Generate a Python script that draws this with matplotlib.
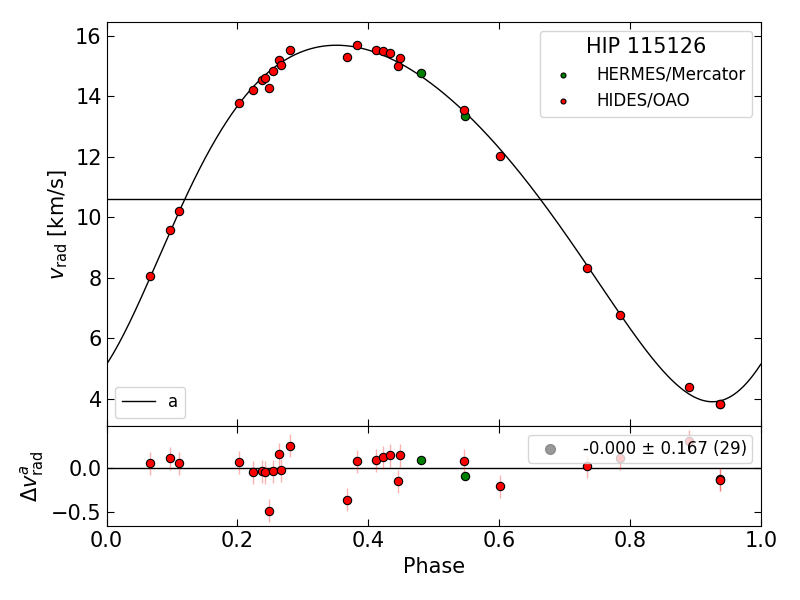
import numpy as np
import matplotlib
matplotlib.use("Agg")
import matplotlib.pyplot as plt

# ---- data ----
hides_phase = [0.067, 0.097, 0.111, 0.202, 0.224, 0.238, 0.242, 0.248, 0.254, 0.263,
               0.266, 0.281, 0.368, 0.382, 0.412, 0.423, 0.433, 0.445, 0.448, 0.547,
               0.601, 0.734, 0.785, 0.890, 0.937, 0.9375]
hides_rv = [8.07, 9.59, 10.22, 13.77, 14.22, 14.54, 14.60, 14.27, 14.83, 15.19,
            15.05, 15.52, 15.31, 15.71, 15.54, 15.49, 15.42, 14.99, 15.26, 13.56,
            12.01, 8.32, 6.78, 4.39, 3.82, 3.83]
hides_res = [0.057, 0.114, 0.053, 0.069, -0.045, -0.038, -0.045, -0.484, -0.038, 0.159,
             -0.026, 0.254, -0.359, 0.076, 0.088, 0.125, 0.148, -0.151, 0.148, 0.084,
             -0.204, 0.019, 0.110, 0.307, -0.128, -0.135]
hides_err = [0.13, 0.13, 0.13, 0.13, 0.13, 0.13, 0.13, 0.13, 0.13, 0.13,
             0.13, 0.13, 0.13, 0.13, 0.13, 0.13, 0.13, 0.13, 0.13, 0.13,
             0.13, 0.13, 0.13, 0.13, 0.13, 0.13]

hermes_phase = [0.480, 0.548]
hermes_rv = [14.77, 13.34]
hermes_res = [0.091, -0.087]
hermes_err = [0.03, 0.03]

# orbit parameters (estimated)
P = 1.0
T0 = 0.005
ecc = 0.18
omega_deg = 220.5
K = 5.895
gamma = 10.6

title = "HIP 115126"
stat_label = "-0.000 ± 0.167 (29)"


def kepler_rv(phase):
    M = 2 * np.pi * (np.asarray(phase) - T0) / P
    E = M.copy()
    for _ in range(50):
        E = E - (E - ecc * np.sin(E) - M) / (1 - ecc * np.cos(E))
    nu = 2 * np.arctan2(np.sqrt(1 + ecc) * np.sin(E / 2), np.sqrt(1 - ecc) * np.cos(E / 2))
    w = np.deg2rad(omega_deg)
    return gamma + K * (np.cos(nu + w) + ecc * np.cos(w))


fig = plt.figure(figsize=(8, 6), dpi=100)
gs = fig.add_gridspec(2, 1, height_ratios=[4.04, 1.0], hspace=0,
                      left=0.1333, right=0.951, top=0.963, bottom=0.123)
ax = fig.add_subplot(gs[0])
axr = fig.add_subplot(gs[1], sharex=ax)

ph = np.linspace(0, 1, 1000)
ax.plot(ph, kepler_rv(ph), color="black", lw=1, label="a", zorder=2)
ax.axhline(gamma, color="black", lw=1, zorder=1)

ax.errorbar(hermes_phase, hermes_rv, yerr=hermes_err, fmt="none", ecolor="green", alpha=0.3, lw=1, zorder=3)
ax.errorbar(hides_phase, hides_rv, yerr=hides_err, fmt="none", ecolor="red", alpha=0.3, lw=1, zorder=3)
h1 = ax.scatter(hermes_phase, hermes_rv, s=36, c="green", edgecolors="black", linewidths=0.8,
                zorder=4, label="HERMES/Mercator")
h2 = ax.scatter(hides_phase, hides_rv, s=36, c="red", edgecolors="black", linewidths=0.8,
                zorder=4, label="HIDES/OAO")

leg1 = ax.legend(handles=[h1, h2], loc="upper right", title=title, fontsize=12,
                 title_fontsize=15, markerscale=0.6, borderpad=0.4, handletextpad=1.0)
ax.add_artist(leg1)
line_handle = ax.get_lines()[0]
ax.legend(handles=[line_handle], loc="lower left", fontsize=12, handlelength=2.0)

ax.set_xlim(0, 1)
ax.set_ylim(3.09, 16.45)
ax.set_yticks([4, 6, 8, 10, 12, 14, 16])
ax.set_ylabel(r"$v_\mathrm{rad}$ [km/s]", fontsize=15)
ax.tick_params(direction="in", top=True, right=True, labelsize=15, length=5,
               labelbottom=False)

# residuals
axr.axhline(0, color="black", lw=1, zorder=1)
axr.errorbar(hides_phase, hides_res, yerr=hides_err, fmt="none", ecolor="red", alpha=0.3, lw=1, zorder=2)
axr.errorbar(hermes_phase, hermes_res, yerr=hermes_err, fmt="none", ecolor="green", alpha=0.3, lw=1, zorder=2)
axr.scatter(hides_phase, hides_res, s=36, c="red", edgecolors="black", linewidths=0.8, zorder=3)
axr.scatter(hermes_phase, hermes_res, s=36, c="green", edgecolors="black", linewidths=0.8, zorder=3)
stat_handle = axr.scatter([], [], s=50, c="gray", alpha=0.8, label=stat_label)
legr = axr.legend(handles=[stat_handle], loc="upper right", fontsize=12, handletextpad=1.0,
                  borderpad=0.3)
legr.set_zorder(10)

axr.set_ylim(-0.66, 0.477)
axr.set_yticks([-0.5, 0.0])
axr.set_xticks([0.0, 0.2, 0.4, 0.6, 0.8, 1.0])
axr.set_xlabel("Phase", fontsize=15)
axr.set_ylabel(r"$\Delta v^a_\mathrm{rad}$", fontsize=15)
axr.tick_params(direction="in", top=True, right=True, labelsize=15, length=5)

fig.savefig("out.png", dpi=100)
